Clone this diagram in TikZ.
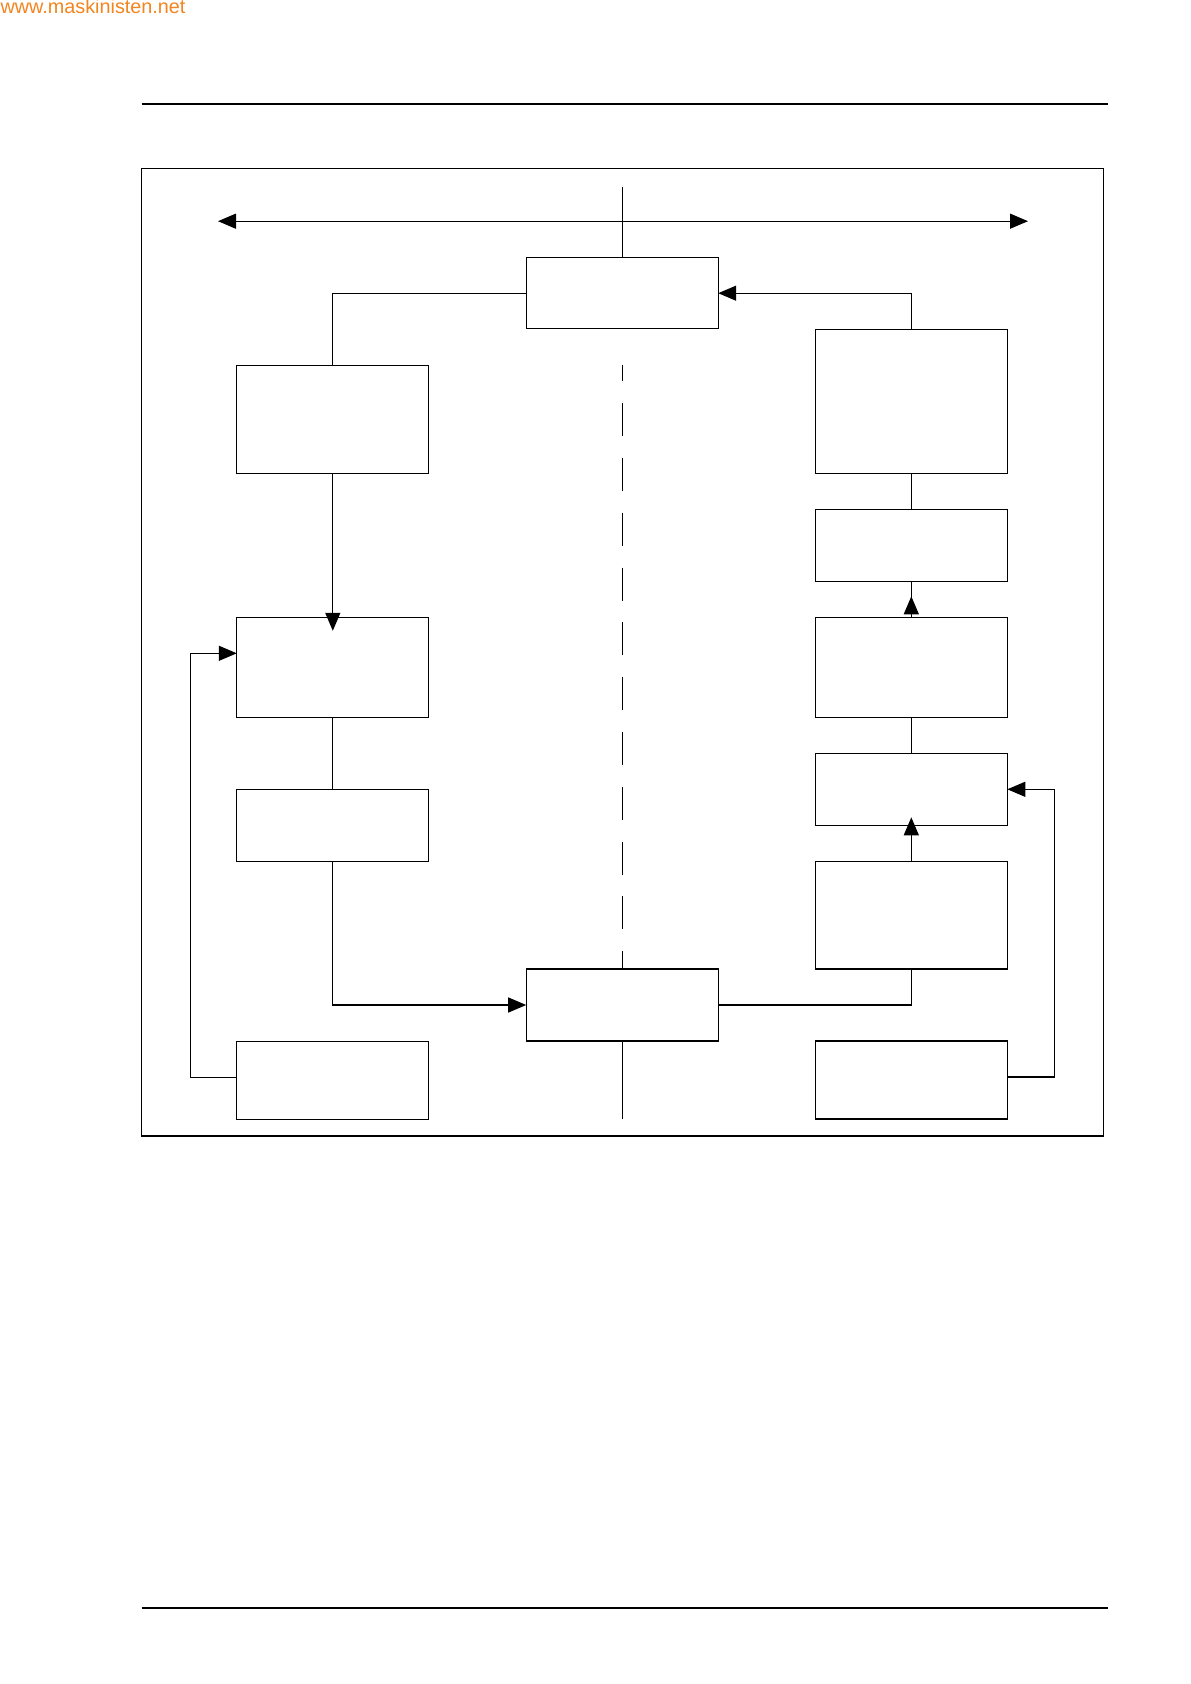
\documentclass[tikz,border=0pt]{standalone}
\usepackage{fontspec}
\usepackage{xcolor}
\usepackage{tikz}
\usetikzlibrary{arrows.meta, positioning, calc}
\newfontfamily\wmfont{Liberation Sans}
\definecolor{wmorange}{RGB}{242,133,31}
\tikzset{
  blk/.style = {
    rectangle, draw=black, line width=0.6pt,
    minimum width=96pt, inner sep=0pt, outer sep=0pt
  },
  arr/.style     = {-{Triangle[length=9pt,width=7.5pt]}, line width=0.6pt},
  biarrow/.style = {{Triangle[length=9pt,width=7.5pt]}-{Triangle[length=9pt,width=7.5pt]},
                    line width=0.6pt},
  rule/.style    = {line width=1pt}
}

\begin{document}
\begin{tikzpicture}[
  x=0.5pt, y=-0.5pt,
  line width=0.6pt,
  node distance=18pt
]
\useasboundingbox (0,0) rectangle (1190,1684);

%% Watermark
\node[anchor=base west, inner sep=0pt, text=wmorange,
      font={\wmfont\fontsize{9.9}{12}\selectfont}] (wm) at (0,14)
      {www.maskinisten.net};

%% Page rules and frame
\draw[rule] (141.7,104) -- (1107.7,104);
\draw[rule] (141.7,1608) -- (1107.7,1608);
\draw (141.3,168.7) rectangle (1103.7,1136);

%% Centre column
\node[blk, minimum height=35.4pt] (T) at (622.2,293.2) {};
\node[blk, minimum height=36pt]   (B) at (622.2,1005) {};

%% Left column
\node[blk, minimum height=54pt] (L1) at (332.8,419.3) {};
\node[blk, minimum height=50pt, below=72pt of L1] (L2) {};
\node[blk, minimum height=36pt, below=36pt of L2] (L3) {};
\node[blk, minimum height=39pt, below=90pt of L3] (L4) {};

%% Right column
\node[blk, minimum height=72pt] (R1) at (911.3,401.3) {};
\node[blk, minimum height=36pt, below=of R1] (R2) {};
\node[blk, minimum height=50pt, below=of R2] (R3) {};
\node[blk, minimum height=36pt, below=of R3] (R4) {};
\node[blk, minimum height=53.85pt, below=of R4] (R5) {};
\node[blk, minimum height=39pt, below=36pt of R5] (R6) {};

%% Axis
\coordinate (axtop) at (622.2,187);
\coordinate (axL)   at (218,221.2);
\coordinate (axR)   at (1028,221.2);
\draw (axtop) -- (T.north);
\draw[biarrow] (axL) -- (axR);
\draw[dash pattern=on 16.5pt off 10.9pt, dash phase=8.5pt]
  (T.south |- L1.north) -- (B.north);
\draw (B.south) -- (B.south |- L4.south);

%% Top arrows
\draw (T.west) -| (L1.north);
\draw[arr] (R1.north) |- (T.east);

%% Left chain
\draw[arr, shorten >=-6.75pt] (L1) -- (L2);
\draw (L2) -- (L3);
\draw[arr] (L3.south) |- (B.west);
\draw[arr] ([yshift=1.5pt]L4.west) -- ++(-46.5,0) |- ([yshift=7pt]L2.west);

%% Right chain
\draw (B.east) -| (R5.south);
\draw[arr, shorten >=-4pt] (R5) -- (R4);
\draw (R4) -- (R3);
\draw (R3) -- (R2);
\draw[arr, shorten >=7.5pt] (R3) -- (R2);
\draw (R2) -- (R1);
\draw[arr] ([yshift=1.5pt]R6.east) -- ++(47.4,0) |- (R4.east);

\end{tikzpicture}
\end{document}
